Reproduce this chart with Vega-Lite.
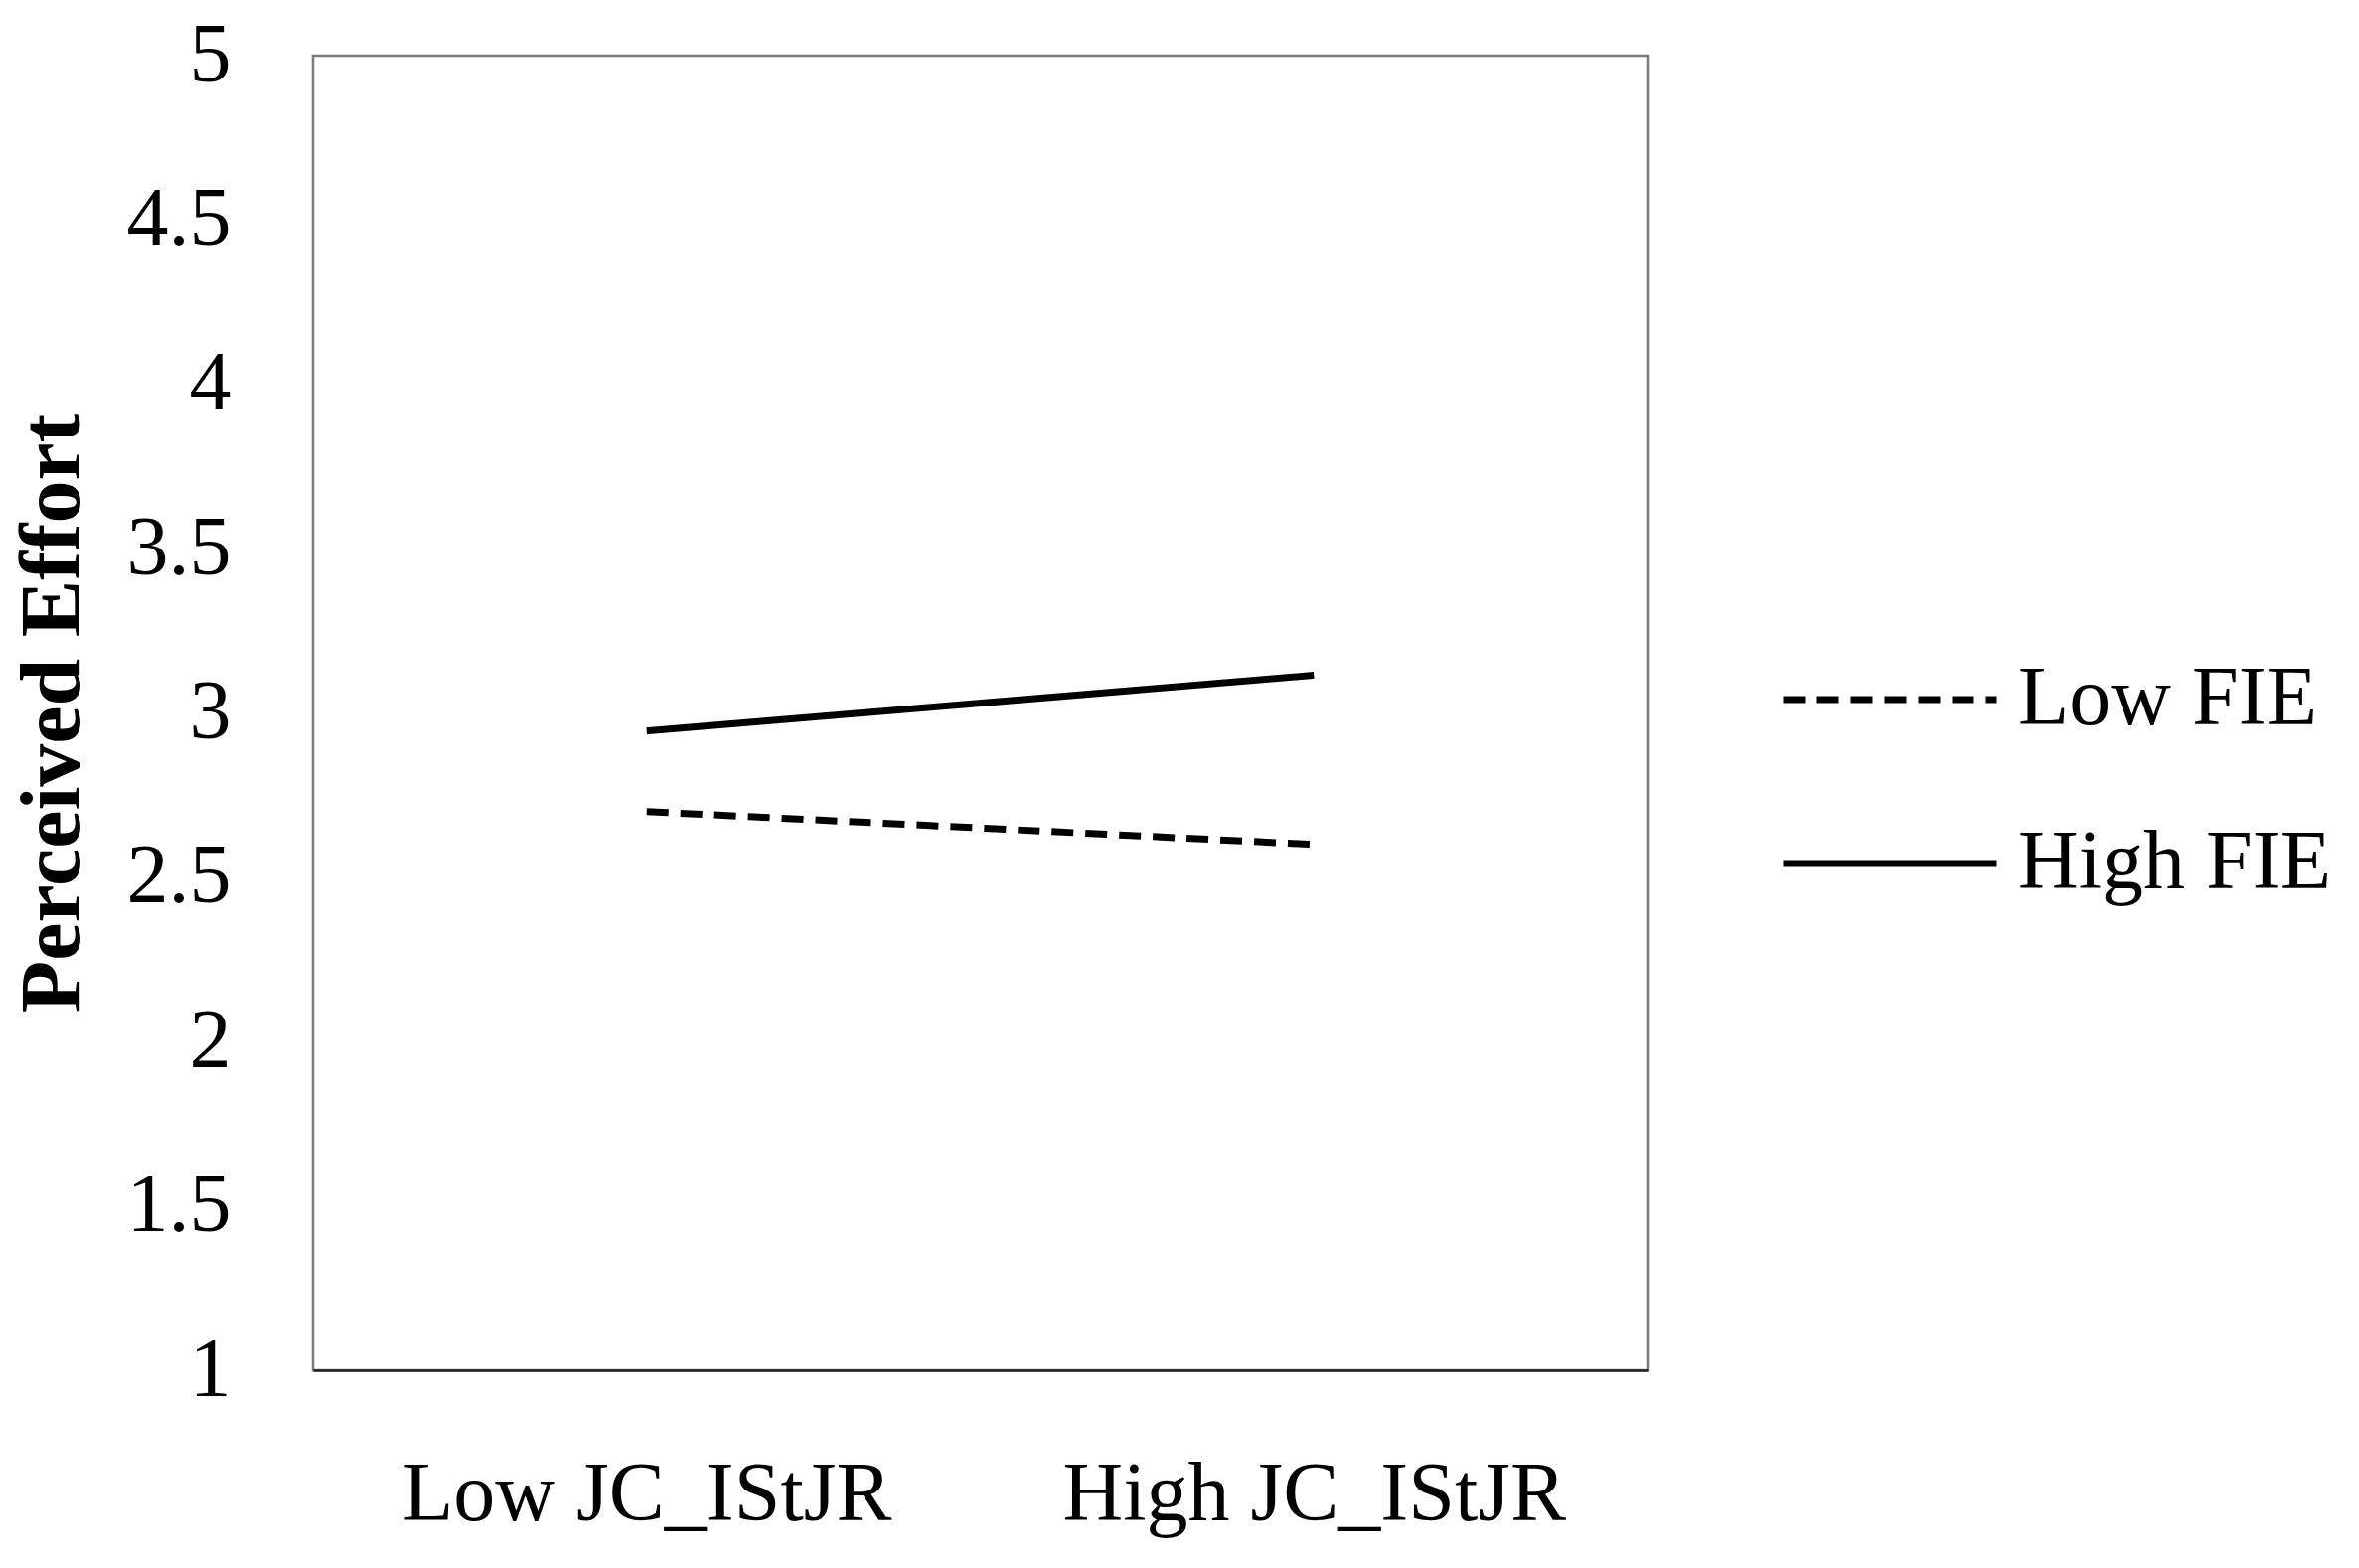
{
  "$schema": "https://vega.github.io/schema/vega-lite/v6.json",
  "width": 1343,
  "height": 1323,
  "autosize": {"type": "none"},
  "padding": {"left": 315, "top": 56, "right": 716, "bottom": 199},
  "background": "white",
  "config": {
    "font": "Liberation Serif",
    "view": {"stroke": "#7a7a7a", "strokeWidth": 2.5},
    "axis": {"grid": false, "ticks": false, "labelColor": "black", "titleColor": "black", "labelLimit": 0}
  },
  "data": {
    "values": [
      {"JC": "Low JC_IStJR", "FIE": "Low FIE", "effort": 2.70},
      {"JC": "High JC_IStJR", "FIE": "Low FIE", "effort": 2.60},
      {"JC": "Low JC_IStJR", "FIE": "High FIE", "effort": 2.945},
      {"JC": "High JC_IStJR", "FIE": "High FIE", "effort": 3.115}
    ]
  },
  "mark": {"type": "line", "strokeWidth": 7, "color": "black", "strokeCap": "butt"},
  "encoding": {
    "x": {
      "field": "JC",
      "type": "nominal",
      "sort": ["Low JC_IStJR", "High JC_IStJR"],
      "scale": {"type": "point", "padding": 0.5},
      "axis": {
        "title": null,
        "labelAngle": 0,
        "labelFontSize": 84,
        "labelPadding": 84,
        "labelLimit": 0,
        "domain": true,
        "domainColor": "#222222",
        "domainWidth": 2.5
      }
    },
    "y": {
      "field": "effort",
      "type": "quantitative",
      "scale": {"domain": [1, 5], "nice": false, "zero": false},
      "axis": {
        "title": "Perceived Effort",
        "titleFontSize": 86,
        "titleFontWeight": "bold",
        "titlePadding": 30,
        "values": [1, 1.5, 2, 2.5, 3, 3.5, 4, 4.5, 5],
        "format": "~g",
        "labelFontSize": 84,
        "labelPadding": 83,
        "domain": false
      }
    },
    "strokeDash": {
      "field": "FIE",
      "type": "nominal",
      "scale": {"domain": ["Low FIE", "High FIE"], "range": [[22, 12], [1, 0]]},
      "legend": {
        "title": null,
        "orient": "none",
        "legendX": 1476,
        "legendY": 537,
        "padding": 0,
        "symbolType": "stroke",
        "symbolSize": 46225,
        "symbolStrokeWidth": 7,
        "symbolStrokeColor": "black",
        "labelFontSize": 84,
        "labelColor": "black",
        "labelOffset": 18,
        "labelLimit": 0,
        "rowPadding": 12
      }
    }
  }
}
